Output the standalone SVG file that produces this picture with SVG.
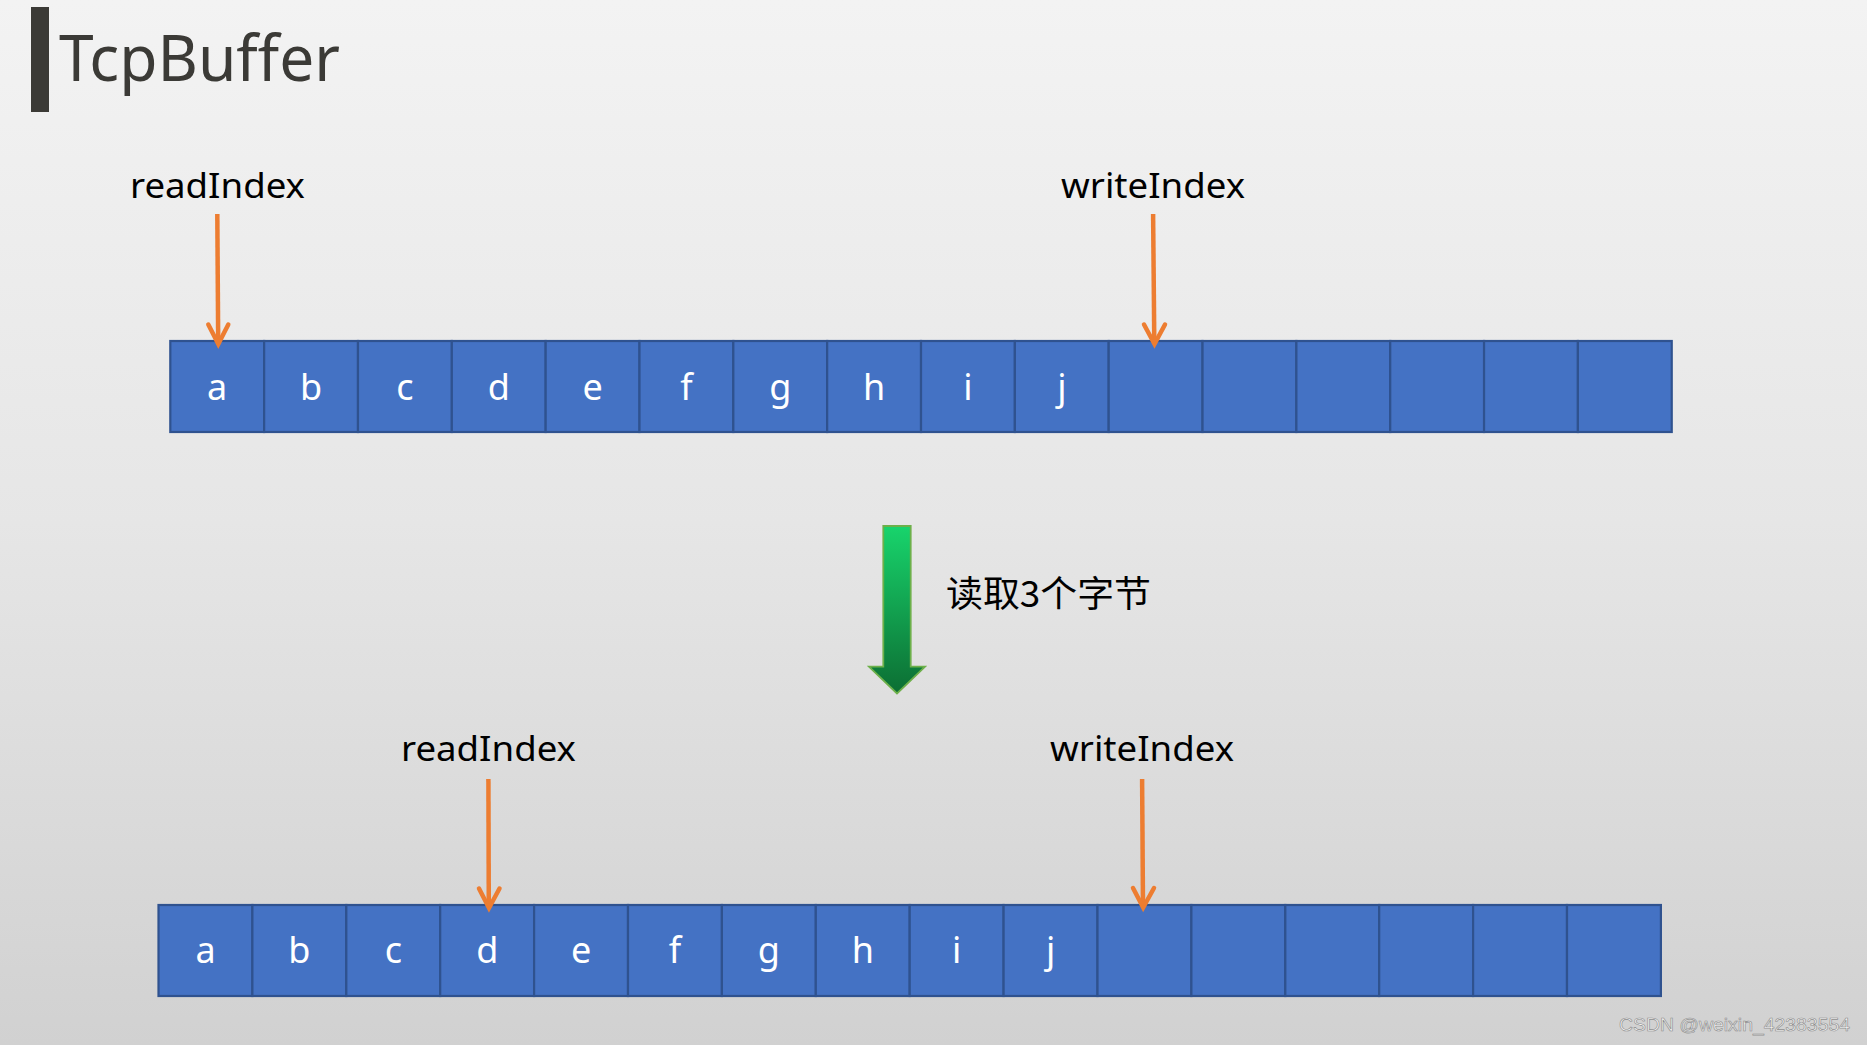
<svg xmlns="http://www.w3.org/2000/svg" width="1867" height="1045" viewBox="0 0 1867 1045">
<style>
.cell{fill:#4472C4;stroke:#2F528F;stroke-width:2.2}
.ch{font-family:"Noto Sans","Open Sans",sans-serif;font-size:36px;fill:#FFFFFF;text-anchor:middle}
.lbl{font-family:"Noto Sans","Open Sans",sans-serif;font-size:34px;fill:#000000}
.ptr{stroke:#ED7D31;stroke-width:4.5;fill:none;stroke-linecap:butt}
.head{stroke:#ED7D31;stroke-width:4.5;fill:none;stroke-linejoin:miter;stroke-linecap:round}
</style>
<defs>
<linearGradient id="bg" x1="0" y1="0" x2="0" y2="1">
<stop offset="0" stop-color="#F3F3F3"/>
<stop offset="0.5" stop-color="#E6E6E6"/>
<stop offset="1" stop-color="#D1D1D1"/>
</linearGradient>
<linearGradient id="grn" x1="0" y1="0" x2="0" y2="1">
<stop offset="0" stop-color="#18D46C"/>
<stop offset="1" stop-color="#0C6E33"/>
</linearGradient>
</defs>
<rect x="0" y="0" width="1867" height="1045" fill="url(#bg)"/>

<g id="title">
<rect x="31" y="7" width="18" height="105" fill="#3B3A36"/>
<text x="59" y="81" font-family="'Noto Sans','Open Sans',sans-serif" font-size="64" fill="#3B3A36" textLength="281" lengthAdjust="spacingAndGlyphs">TcpBuffer</text>
</g>

<g id="buffer-before">
<rect class="cell" x="170.3" y="341" width="93.84" height="91"/>
<rect class="cell" x="264.14" y="341" width="93.84" height="91"/>
<rect class="cell" x="357.98" y="341" width="93.84" height="91"/>
<rect class="cell" x="451.82" y="341" width="93.84" height="91"/>
<rect class="cell" x="545.66" y="341" width="93.84" height="91"/>
<rect class="cell" x="639.5" y="341" width="93.84" height="91"/>
<rect class="cell" x="733.34" y="341" width="93.84" height="91"/>
<rect class="cell" x="827.18" y="341" width="93.84" height="91"/>
<rect class="cell" x="921.02" y="341" width="93.84" height="91"/>
<rect class="cell" x="1014.86" y="341" width="93.84" height="91"/>
<rect class="cell" x="1108.7" y="341" width="93.84" height="91"/>
<rect class="cell" x="1202.54" y="341" width="93.84" height="91"/>
<rect class="cell" x="1296.38" y="341" width="93.84" height="91"/>
<rect class="cell" x="1390.22" y="341" width="93.84" height="91"/>
<rect class="cell" x="1484.06" y="341" width="93.84" height="91"/>
<rect class="cell" x="1577.9" y="341" width="93.84" height="91"/>
<text class="ch" x="217.2" y="400">a</text>
<text class="ch" x="311.1" y="400">b</text>
<text class="ch" x="404.9" y="400">c</text>
<text class="ch" x="498.7" y="400">d</text>
<text class="ch" x="592.6" y="400">e</text>
<text class="ch" x="686.4" y="400">f</text>
<text class="ch" x="780.3" y="400">g</text>
<text class="ch" x="874.1" y="400">h</text>
<text class="ch" x="967.9" y="400">i</text>
<text class="ch" x="1061.8" y="400">j</text>
</g>

<g id="buffer-after">
<rect class="cell" x="158.5" y="905" width="93.9" height="91"/>
<rect class="cell" x="252.4" y="905" width="93.9" height="91"/>
<rect class="cell" x="346.3" y="905" width="93.9" height="91"/>
<rect class="cell" x="440.2" y="905" width="93.9" height="91"/>
<rect class="cell" x="534.1" y="905" width="93.9" height="91"/>
<rect class="cell" x="628" y="905" width="93.9" height="91"/>
<rect class="cell" x="721.9" y="905" width="93.9" height="91"/>
<rect class="cell" x="815.8" y="905" width="93.9" height="91"/>
<rect class="cell" x="909.7" y="905" width="93.9" height="91"/>
<rect class="cell" x="1003.6" y="905" width="93.9" height="91"/>
<rect class="cell" x="1097.5" y="905" width="93.9" height="91"/>
<rect class="cell" x="1191.4" y="905" width="93.9" height="91"/>
<rect class="cell" x="1285.3" y="905" width="93.9" height="91"/>
<rect class="cell" x="1379.2" y="905" width="93.9" height="91"/>
<rect class="cell" x="1473.1" y="905" width="93.9" height="91"/>
<rect class="cell" x="1567" y="905" width="93.9" height="91"/>
<text class="ch" x="205.5" y="963">a</text>
<text class="ch" x="299.4" y="963">b</text>
<text class="ch" x="393.3" y="963">c</text>
<text class="ch" x="487.2" y="963">d</text>
<text class="ch" x="581.1" y="963">e</text>
<text class="ch" x="675" y="963">f</text>
<text class="ch" x="768.9" y="963">g</text>
<text class="ch" x="862.8" y="963">h</text>
<text class="ch" x="956.7" y="963">i</text>
<text class="ch" x="1050.6" y="963">j</text>
</g>

<g id="label-read-before"><text class="lbl" x="130" y="198" textLength="175" lengthAdjust="spacingAndGlyphs">readIndex</text></g>
<g id="label-write-before"><text class="lbl" x="1061" y="198" textLength="184" lengthAdjust="spacingAndGlyphs">writeIndex</text></g>
<g id="label-read-after"><text class="lbl" x="401" y="761" textLength="175" lengthAdjust="spacingAndGlyphs">readIndex</text></g>
<g id="label-write-after"><text class="lbl" x="1050" y="761" textLength="184" lengthAdjust="spacingAndGlyphs">writeIndex</text></g>

<g id="step-label"><text x="946" y="607" font-family="'Noto Sans CJK SC','Noto Sans',sans-serif" font-size="36" fill="#000000" textLength="205" lengthAdjust="spacingAndGlyphs">读取3个字节</text></g>

<g id="connectors">
<path class="ptr" d="M217.3,214 L218.2,342"/>
<path class="head" d="M208.3,324.5 L218.3,344 L228.3,324.5"/>
<path class="ptr" d="M1153.1,214 L1154.3,342"/>
<path class="head" d="M1144,324.5 L1154.5,344 L1165,324.5"/>
<path class="ptr" d="M488.4,779 L488.8,906"/>
<path class="head" d="M479,888.5 L489,908 L499.5,888.5"/>
<path class="ptr" d="M1142.1,779 L1143,906"/>
<path class="head" d="M1133,888 L1143.2,907.5 L1154,888"/>
<path d="M883.3,526 L910.7,526 L910.7,666.7 L925,666.7 L897,693.5 L869,666.7 L883.3,666.7 Z" fill="url(#grn)" stroke="#6DB04A" stroke-width="1.8"/>
</g>

<g id="watermark"><text x="1619" y="1031" font-family="'Liberation Sans',sans-serif" font-size="18" fill="#F4F4F4" stroke="#8C8C8C" stroke-width="0.6" textLength="231" lengthAdjust="spacingAndGlyphs">CSDN @weixin_42383554</text></g>
</svg>
